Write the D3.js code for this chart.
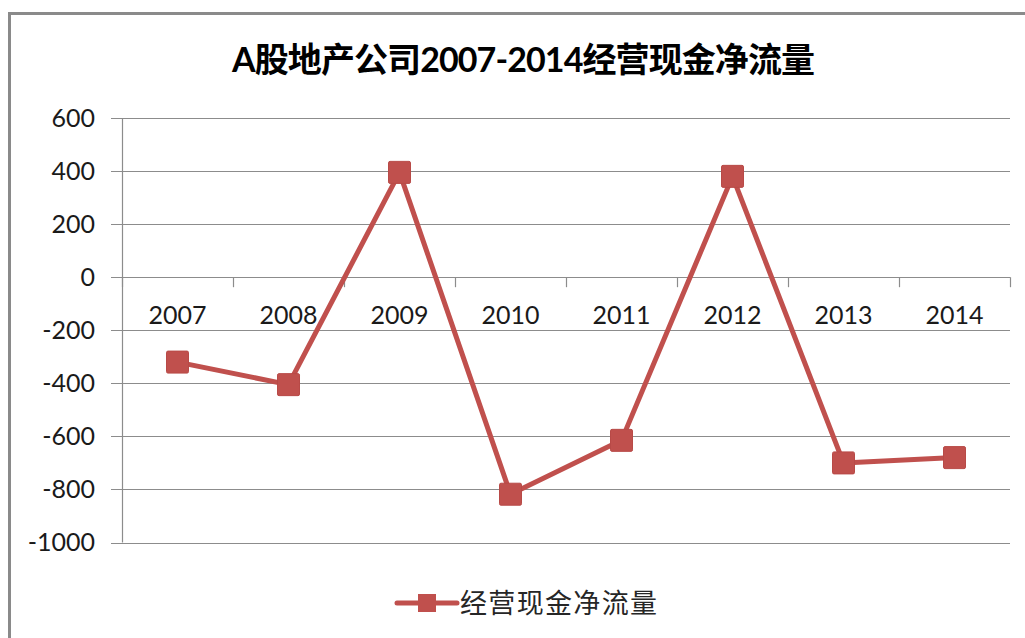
<!DOCTYPE html>
<html>
<head>
<meta charset="utf-8">
<script src="https://cdn.jsdelivr.net/npm/d3@7"></script>
<style>
	body { margin: 0; background: #fff; }
	svg { display: block; }
</style>
</head>
<body>
<div id="line-chart"></div>
<script>
// chart data
const title = "A股地产公司2007-2014经营现金净流量";
const seriesName = "经营现金净流量";
const years = ["2007", "2008", "2009", "2010", "2011", "2012", "2013", "2014"];
const cashFlow = [-320, -405, 395, -818, -615, 380, -700, -680];
const yTicks = [600, 400, 200, 0, -200, -400, -600, -800, -1000];

const W = 1025, H = 638;
const margin = {top: 118, left: 122, right: 15, bottom: 95.5};
const lineColor = "#C0504D";
const gridColor = "#8c8c8c";
const numFont = "Lato, 'Noto Sans CJK SC', sans-serif";

const svg = d3.select("#line-chart")
	.append("svg")
		.attr("width", W)
		.attr("height", H);

// outer frame (right and bottom run off the picture)
svg.append("rect")
	.attr("x", 9.5).attr("y", 13.5)
	.attr("width", 1040).attr("height", 660)
	.attr("fill", "none")
	.attr("stroke", "#8a8a8a")
	.attr("stroke-width", 3);

// title
svg.append("text")
	.attr("x", 523.5).attr("y", 72)
	.attr("text-anchor", "middle")
	.attr("textLength", 583)
	.attr("lengthAdjust", "spacing")
	.style("font-family", numFont)
	.style("font-size", "34px")
	.style("font-weight", "bold")
	.attr("fill", "#000")
	.text(title);

const x = d3.scaleBand()
	.domain(years)
	.range([margin.left, W - margin.right])
	.padding(0);

const y = d3.scaleLinear()
	.domain([-1000, 600])
	.range([H - margin.bottom, margin.top]);

// horizontal gridlines
svg.append("g")
	.selectAll("line")
	.data(yTicks)
	.join("line")
		.attr("x1", margin.left - 11)
		.attr("x2", W - margin.right)
		.attr("y1", d => Math.round(y(d)) + 0.5)
		.attr("y2", d => Math.round(y(d)) + 0.5)
		.attr("stroke", gridColor)
		.attr("stroke-width", 1.2);

// y axis labels (plain hyphen, no thousands separator)
const yAxis = svg.append("g")
	.attr("transform", "translate(" + margin.left + ",0)")
	.call(d3.axisLeft(y)
		.tickValues(yTicks)
		.tickFormat(d => String(d))
		.tickSize(11)
		.tickPadding(16));
yAxis.select(".domain").remove();
yAxis.selectAll("line").remove();
yAxis.selectAll("text")
	.style("font-family", numFont)
	.style("font-size", "25px")
	.attr("fill", "#1a1a1a");

// vertical axis line
svg.append("line")
	.attr("x1", margin.left + 0.5).attr("x2", margin.left + 0.5)
	.attr("y1", y(600)).attr("y2", y(-1000))
	.attr("stroke", gridColor)
	.attr("stroke-width", 1.2);

// category boundary ticks on the zero line
const bounds = years.map(d => x(d)).concat([x.range()[1]]);
svg.append("g")
	.selectAll("line")
	.data(bounds)
	.join("line")
		.attr("x1", d => Math.round(d) + 0.5)
		.attr("x2", d => Math.round(d) + 0.5)
		.attr("y1", y(0))
		.attr("y2", y(0) + 10)
		.attr("stroke", gridColor)
		.attr("stroke-width", 1.2);

// category labels
svg.append("g")
	.selectAll("text")
	.data(years)
	.join("text")
		.attr("x", d => x(d) + x.bandwidth() / 2)
		.attr("y", y(0) + 47)
		.attr("text-anchor", "middle")
		.style("font-family", numFont)
		.style("font-size", "25px")
		.attr("fill", "#1a1a1a")
		.text(d => d);

// series line
const points = years.map((d, i) => ({year: d, value: cashFlow[i]}));

svg.append("path")
	.datum(points)
	.attr("fill", "none")
	.attr("stroke", lineColor)
	.attr("stroke-width", 5)
	.attr("stroke-linejoin", "round")
	.attr("d", d3.line()
		.x(d => x(d.year) + x.bandwidth() / 2)
		.y(d => y(d.value)));

// square markers
const ms = 22;
svg.append("g")
	.selectAll("rect")
	.data(points)
	.join("rect")
		.attr("x", d => x(d.year) + x.bandwidth() / 2 - ms / 2)
		.attr("y", d => y(d.value) - ms / 2)
		.attr("width", ms)
		.attr("height", ms)
		.attr("rx", 1.5)
		.attr("fill", lineColor)
		.attr("stroke", "#b84a47")
		.attr("stroke-width", 1);

// legend
const legend = svg.append("g").attr("transform", "translate(397,603)");
legend.append("line")
	.attr("x1", 0).attr("x2", 60)
	.attr("y1", 0).attr("y2", 0)
	.attr("stroke", lineColor)
	.attr("stroke-width", 5)
	.attr("stroke-linecap", "round");
legend.append("rect")
	.attr("x", 21).attr("y", -9)
	.attr("width", 18).attr("height", 18)
	.attr("fill", lineColor);
legend.append("text")
	.attr("x", 63).attr("y", 10)
	.attr("textLength", 197)
	.attr("lengthAdjust", "spacing")
	.style("font-family", "'Noto Sans CJK SC', sans-serif")
	.style("font-size", "27px")
	.attr("fill", "#262626")
	.text(seriesName);
</script>
</body>
</html>
